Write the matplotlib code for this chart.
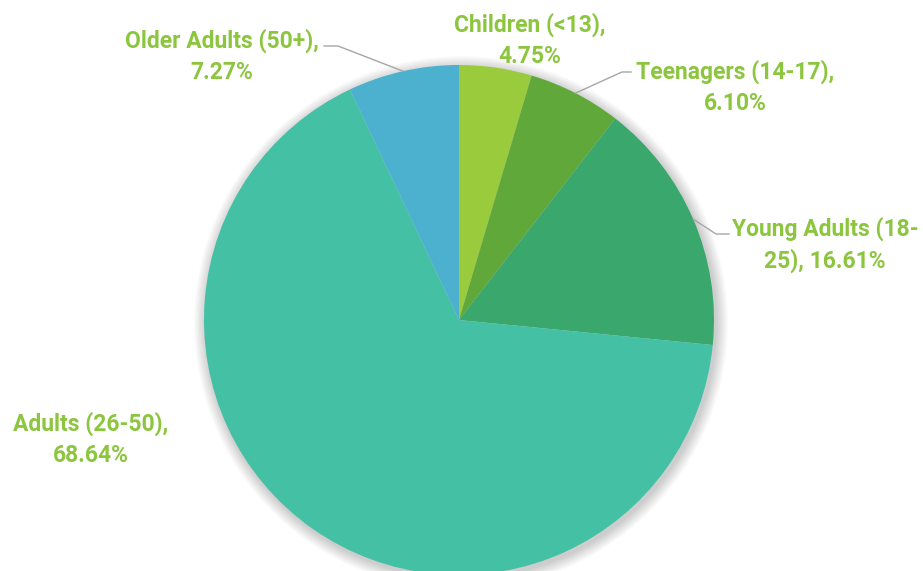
import numpy as np
from matplotlib import pyplot as plt
from matplotlib.patches import Circle

groups = ['Children (<13),', 'Teenagers (14-17),', 'Young Adults (18-',
          'Adults (26-50),', 'Older Adults (50+),']
second_line = ['4.75%', '6.10%', '25), 16.61%', '68.64%', '7.27%']
shares = [4.75, 6.10, 16.61, 68.64, 7.27]
colors = ['#9ACB3C', '#61A83A', '#3AA76D', '#44C1A4', '#4BB1CF']

label_color = '#8CC63F'
line_color = '#A6A6A6'

W, H = 923, 571
fig = plt.figure(figsize=(W / 100, H / 100), dpi=100)
ax = fig.add_axes([0, 0, 1, 1])
ax.set_xlim(0, W)
ax.set_ylim(0, H)
ax.set_aspect('equal')
ax.axis('off')

cx, cy, r = 459, 251, 255

# soft shadow behind the pie
for k in range(10):
    ax.add_patch(Circle((cx + 2, cy - 3), r + 1 + k * 1.2, color='black',
                        alpha=0.018, lw=0, zorder=0))

wedges, _ = ax.pie(shares, colors=colors, startangle=90, counterclock=False,
                   center=(cx, cy), radius=r, frame=True,
                   wedgeprops=dict(linewidth=0))
ax.set_xlim(0, W)
ax.set_ylim(0, H)
ax.axis('off')

# label positions (centre of the two-line text) and leader line elbows
label_pos = [(530, 531), (735, 484), (825, 326), (91, 132), (222, 515)]
elbows = [None, [(631, 499), (622, 499)], [(729, 337), (716, 337)], None,
          [(324, 525), (338, 525)]]

for w, g, s, pos, elb in zip(wedges, groups, second_line, label_pos, elbows):
    ax.text(pos[0], pos[1], g + '\n' + s, ha='center', va='center',
            color=label_color, fontsize=16.5, fontweight='bold',
            family=['Roboto', 'DejaVu Sans'], linespacing=1.42)
    if elb is None:
        continue
    mid = np.deg2rad((w.theta1 + w.theta2) / 2)
    edge = (cx + r * np.cos(mid), cy + r * np.sin(mid))
    xs = [elb[0][0], elb[1][0], edge[0]]
    ys = [elb[0][1], elb[1][1], edge[1]]
    ax.plot(xs, ys, color=line_color, lw=1, zorder=3)

fig.savefig('out.png', dpi=100, facecolor='white')
